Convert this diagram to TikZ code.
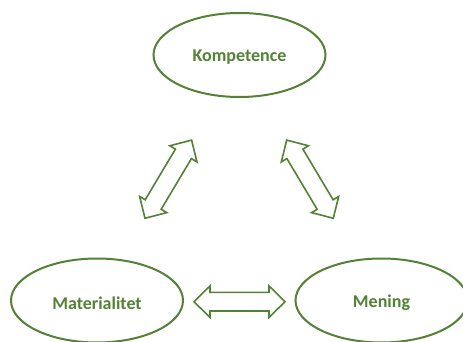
\documentclass[tikz,border=0pt]{standalone}
\usepackage{fontspec}
\setmainfont{Carlito}
\usetikzlibrary{shapes.geometric}
\definecolor{ogreen}{HTML}{538135}
\newcommand{\elbl}[1]{\raisebox{-2.5pt}[\height][\depth]{#1}}
\tikzset{
  circ/.style={ellipse, draw=ogreen, line width=2pt, minimum width=172pt, minimum height=84pt,
    inner sep=0pt, text=ogreen, font=\fontsize{18}{20}\selectfont\bfseries},
  dblarrow/.pic={
    \draw[draw=ogreen, line width=1.6pt, line join=miter, fill=white]
      (-45.5,0) -- (-29.5,15.8) -- (-29.5,9.3) -- (29.5,9.3) -- (29.5,15.8) -- (45.5,0)
      -- (29.5,-15.8) -- (29.5,-9.3) -- (-29.5,-9.3) -- (-29.5,-15.8) -- cycle;
  }
}
\begin{document}
\begin{tikzpicture}[x=1pt,y=-1pt]
  \useasboundingbox (0,0) rectangle (463,342);
  \begin{scope}
    \clip (0,0) rectangle (463,342);
    \node[circ] (komp) at (239.5,55) {\elbl{Kompetence}};
    \node[circ] (mat) at (97,300.5) {\elbl{Materialitet}};
    \node[circ] (men) at (381.5,300.5) {\elbl{Mening}};
  \end{scope}
  \pic[rotate=59.2] (a1) at (168.3,179.2) {dblarrow};
  \pic[rotate=-59.2] (a2) at (310,179.2) {dblarrow};
  \pic (a3) at (239.5,301.7) {dblarrow};
\end{tikzpicture}
\end{document}
